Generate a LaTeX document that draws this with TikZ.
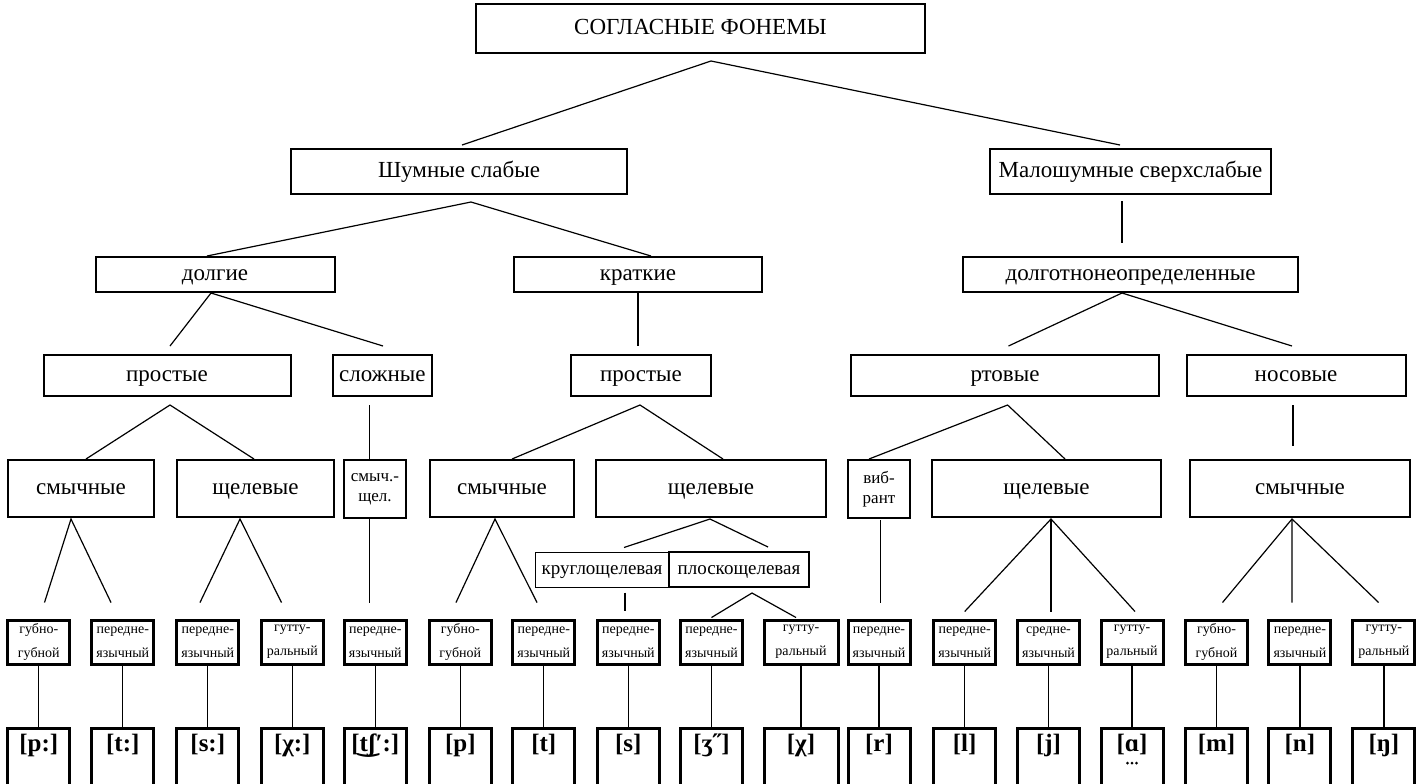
\documentclass[tikz,border=0pt]{standalone}
\usepackage{fontspec}
\setmainfont{Liberation Serif}
\newfontfamily\markfont{DejaVu Sans}

\begin{document}
\begin{tikzpicture}[x=0.5pt, y=-0.5pt,
		box/.style={draw, line width=1pt, inner sep=0pt, text height=8.2pt, text depth=2.3pt,
			font=\fontsize{11.5}{13}\selectfont},
		twoline/.style={draw, line width=1pt, inner sep=0pt, align=center, font=\fontsize{8.5}{10}\selectfont},
		split/.style={box, text height=7pt, text depth=2pt, font=\fontsize{9.5}{11}\selectfont},
		place/.style={draw, line width=1.5pt, inner sep=0pt, minimum height=22pt,
			align=center, font=\fontsize{7}{12}\selectfont},
		sound/.style={draw, line width=1.5pt, inner sep=0pt, anchor=north,
			text height=11.5pt, text depth=25pt, font=\fontsize{12.5}{14}\selectfont\bfseries},
		link/.style={line width=0.6pt}]
		\useasboundingbox (0, 0) rectangle (1420, 783);

		% top levels
		\node[box, minimum width=224.5pt, minimum height=24.5pt] (root) at (700.5, 28.5) {СОГЛАСНЫЕ ФОНЕМЫ};
		\node[box, minimum width=168pt, minimum height=22.5pt] (noisy) at (459, 171.5) {Шумные слабые};
		\node[box, minimum width=140.5pt, minimum height=22.5pt] (sonor) at (1130.5, 171.5) {Малошумные сверхслабые};

		\node[box, minimum width=119.5pt, minimum height=17.5pt] (long) at (215, 274.5) {долгие};
		\node[box, minimum width=124pt, minimum height=17.5pt] (short) at (638, 274.5) {краткие};
		\node[box, minimum width=167.5pt, minimum height=17.5pt] (indef) at (1130.5, 274.5) {долготнонеопределенные};

		\node[box, minimum width=123.5pt, minimum height=20.5pt] (simple1) at (167, 375.5) {простые};
		\node[box, minimum width=49.3pt, minimum height=20.5pt] (complex) at (382.3, 375.5) {сложные};
		\node[box, minimum width=70pt, minimum height=20.5pt] (simple2) at (641, 375.5) {простые};
		\node[box, minimum width=154.2pt, minimum height=20.5pt] (oral) at (1005, 375.5) {ртовые};
		\node[box, minimum width=109.5pt, minimum height=20.5pt] (nasal) at (1296, 375.5) {носовые};

		\node[box, minimum width=73pt, minimum height=28.5pt] (stop1) at (81, 488.5) {смычные};
		\node[box, minimum width=78.5pt, minimum height=28.5pt] (fric1) at (255.5, 488.5) {щелевые};
		\node[twoline, minimum width=31pt, minimum height=29pt] (affr) at (375, 489) {смыч.-\\щел.};
		\node[box, minimum width=72pt, minimum height=28.5pt] (stop2) at (502, 488.5) {смычные};
		\node[box, minimum width=115pt, minimum height=28.5pt] (fric2) at (711, 488.5) {щелевые};
		\node[twoline, minimum width=31pt, minimum height=29pt] (trill) at (879, 489) {виб-\\рант};
		\node[box, minimum width=114.5pt, minimum height=28.5pt] (fric3) at (1046.5, 488.5) {щелевые};
		\node[box, minimum width=110pt, minimum height=28.5pt] (stop3) at (1300, 488.5) {смычные};

		\node[split, line width=0.5pt, minimum width=67pt, minimum height=17.5pt] (round) at (602, 569.5) {круглощелевая};
		\node[split, minimum width=70pt, minimum height=17.5pt] (flat) at (739, 569.5) {плоскощелевая};

		% places and sounds
		\foreach \x/\w/\p/\s [count=\i] in {
				38.8/31/{губно-\\губной}/{[p:]},
				122.8/31/{передне-\\язычный}/{[t:]},
				207.8/31/{передне-\\язычный}/{[s:]},
				292.3/31/{гутту-\\ральный}/{[χ:]},
				375.3/31/{передне-\\язычный}/{[t{\markfont ͜}ʃʹ:]},
				460.3/31/{губно-\\губной}/{[p]},
				543.8/31/{передне-\\язычный}/{[t]},
				628.3/31/{передне-\\язычный}/{[s]},
				711.5/31/{передне-\\язычный}/{[ʒ˝]},
				801/37/{гутту-\\ральный}/{[χ]},
				879/31/{передне-\\язычный}/{[r]},
				964.7/31/{передне-\\язычный}/{[l]},
				1048.5/31/{средне-\\язычный}/{[j]},
				1132/31/{гутту-\\ральный}/{[ɑ]},
				1216.5/31/{губно-\\губной}/{[m]},
				1299.9/31/{передне-\\язычный}/{[n]},
				1383.9/31/{гутту-\\ральный}/{[ŋ]}} {
			\node[place, minimum width=\w pt] (p\i) at (\x, 642) {\p};
			\node[sound, minimum width=\w pt] (s\i) at (\x, 727) {\s};
			\draw[link] (p\i.south) -- (s\i.north);
		}
		% three dots under the vowel
		\foreach \d in {-4.5, 0, 4.5}
			\fill ([shift={(\d, 36)}]s14.north) circle (0.75pt);

		% connectors
		\draw[link] ([shift={(3,-3)}]noisy.north) -- ([shift={(10.5,7)}]root.south) -- ([shift={(-10.5,-3)}]sonor.north);
		\draw[link] ([shift={(-8,0)}]long.north) -- ([shift={(12,7)}]noisy.south) -- ([shift={(13,0)}]short.north);
		\draw[link] ([shift={(-8.5,6)}]sonor.south) -- ([shift={(-8.5,-13)}]indef.north);

		\draw[link] ([shift={(3,-8)}]simple1.north) -- ([shift={(-4,0)}]long.south) -- ([shift={(0.7,-8)}]complex.north);
		\draw[link] (short.south) -- ([shift={(-3,-8)}]simple2.north);
		\draw[link] ([shift={(3.5,-8)}]oral.north) -- ([shift={(-8.5,0)}]indef.south) -- ([shift={(-4,-8)}]nasal.north);

		\draw[link] ([shift={(5,0)}]stop1.north) -- ([shift={(3,8)}]simple1.south) -- ([shift={(-1.5,0)}]fric1.north);
		\draw[link] ([shift={(-12.7,8)}]complex.south) -- ([shift={(-5.4,0)}]affr.north);
		\draw[link] ([shift={(10,0)}]stop2.north) -- ([shift={(-1,8)}]simple2.south) -- ([shift={(12,0)}]fric2.north);
		\draw[link] ([shift={(-10,0)}]trill.north) -- ([shift={(2.6,8)}]oral.south) -- ([shift={(18.5,0)}]fric3.north);
		\draw[link] ([shift={(-3,8)}]nasal.south) -- ([shift={(-7,-13)}]stop3.north);

		\draw[link] ([shift={(5.7,-16)}]p1.north) -- ([shift={(-10,1)}]stop1.south) -- ([shift={(-11.8,-16)}]p2.north);
		\draw[link] ([shift={(-7.8,-16)}]p3.north) -- ([shift={(-15.5,1)}]fric1.south) -- ([shift={(-10.8,-16)}]p4.north);
		\draw[link] ([shift={(-5.4,0)}]affr.south) -- ([shift={(-5.7,-16)}]p5.north);
		\draw[link] ([shift={(-4.3,-16)}]p6.north) -- ([shift={(-7,1)}]stop2.south) -- ([shift={(-6.8,-16)}]p7.north);
		\draw[link] ([shift={(22,-4)}]round.north) -- ([shift={(-1,1)}]fric2.south) -- ([shift={(29,-4)}]flat.north);
		\draw[link] ([shift={(23,5)}]round.south) -- ([shift={(-3.3,-8)}]p8.north);
		\draw[link] ([shift={(0,-1)}]p9.north) -- ([shift={(13,5)}]flat.south) -- ([shift={(-5,-1)}]p10.north);
		\draw[link] ([shift={(1.4,1)}]trill.south) -- ([shift={(1.4,-16)}]p11.north);
		\draw[link] ([shift={(0,-7)}]p12.north) -- ([shift={(4.5,1)}]fric3.south) -- ([shift={(3,-7)}]p14.north);
		\draw[link] ([shift={(4.5,1)}]fric3.south) -- ([shift={(2.5,-7)}]p13.north);
		\draw[link] ([shift={(6,-16)}]p15.north) -- ([shift={(-8,1)}]stop3.south) -- ([shift={(-5.3,-16)}]p17.north);
		\draw[link] ([shift={(-8,1)}]stop3.south) -- ([shift={(-8,-16)}]p16.north);
	\end{tikzpicture}
\end{document}
